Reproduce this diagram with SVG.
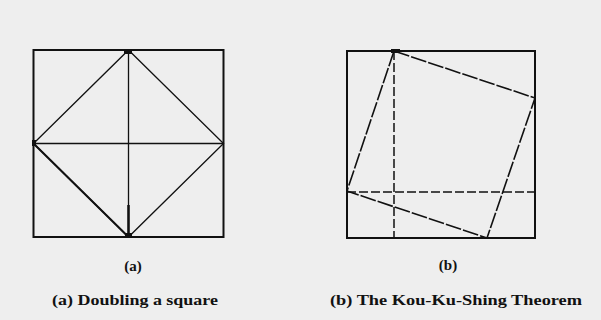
<svg xmlns="http://www.w3.org/2000/svg" width="601" height="320" viewBox="0 0 601 320">
<style>
.frame{fill:none;stroke:#111;stroke-width:2}
.thin{fill:none;stroke:#111;stroke-width:1.3}
.dash{fill:none;stroke:#111;stroke-width:1.5;stroke-dasharray:9 3}
.tilt{fill:none;stroke:#111;stroke-width:1.6;stroke-dasharray:16 2}
.lbl{font-family:"Liberation Serif",serif;font-weight:bold;font-size:15px;fill:#111}
.cap{font-family:"Liberation Serif",serif;font-weight:bold;font-size:15px;fill:#111}
</style>
<rect x="0" y="0" width="601" height="320" fill="#eeeeee"/>
<g id="square-a">
<rect class="frame" x="33.5" y="50" width="190" height="187"/>
<polygon class="thin" points="128.5,50 223.5,143.5 128.5,237 33.5,143.5"/>
<line class="thin" x1="33.5" y1="143.5" x2="223.5" y2="143.5"/>
<line class="thin" x1="128.5" y1="50" x2="128.5" y2="237"/>
<line x1="128.5" y1="205" x2="128.5" y2="237" stroke="#111" stroke-width="2.5"/>
<line x1="33.5" y1="143.5" x2="128.5" y2="237" stroke="#111" stroke-width="2"/>
<rect x="124" y="49" width="8" height="5" fill="#111"/>
<rect x="32" y="140" width="4" height="6" fill="#111"/>
<rect x="125" y="233" width="7" height="5" fill="#111"/>
</g>
<g id="square-b">
<rect class="frame" x="347" y="51" width="188" height="187"/>
<line class="dash" x1="394" y1="51" x2="394" y2="238"/>
<line class="dash" x1="347" y1="192" x2="535" y2="192"/>
<polygon class="tilt" points="394,51 535,98 487,238 347,191"/>
<rect x="391" y="49" width="9" height="4" fill="#111"/>
</g>
<g id="labels">
<text class="lbl" x="133" y="271" text-anchor="middle">(a)</text>
<text class="lbl" x="448" y="270" text-anchor="middle">(b)</text>
<text class="cap" x="52" y="305" textLength="166" lengthAdjust="spacingAndGlyphs">(a)  Doubling a square</text>
<text class="cap" x="330" y="305" textLength="252" lengthAdjust="spacingAndGlyphs">(b)  The Kou-Ku-Shing Theorem</text>
</g>
</svg>
